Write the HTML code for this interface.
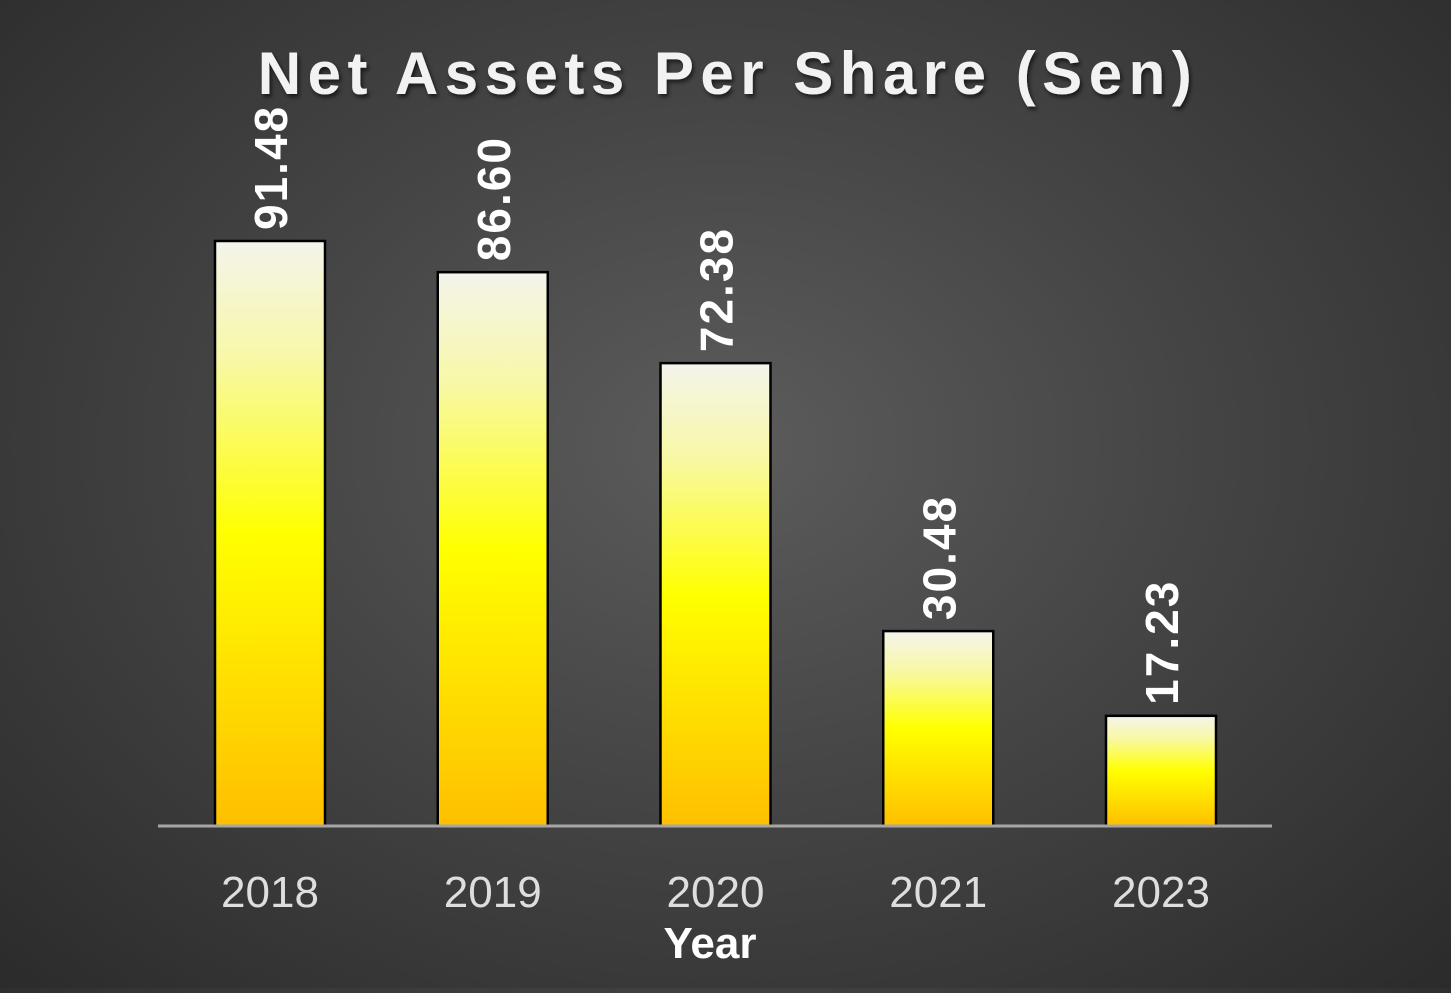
<!DOCTYPE html>
<html><head><meta charset="utf-8"><style>
html,body{margin:0;padding:0}
body{width:1451px;height:988px;overflow:hidden;background:radial-gradient(ellipse at 50% 45%,#5c5c5c 0%,#454545 45%,#2b2b2b 100%);font-family:"Liberation Sans",sans-serif}
</style></head><body>
<svg id="chart" width="1451" height="988" xmlns="http://www.w3.org/2000/svg">
<defs>
<linearGradient id="barGrad" x1="0" y1="0" x2="0" y2="1">
<stop offset="0" stop-color="#f4f4ec"/>
<stop offset="0.2" stop-color="#f8f8a8"/>
<stop offset="0.5" stop-color="#ffff00"/>
<stop offset="1" stop-color="#ffbf00"/>
</linearGradient>
<filter id="sh"><feDropShadow dx="2" dy="3" stdDeviation="2" flood-color="#000" flood-opacity="0.6"/></filter>
</defs>
<text x="728" y="94" text-anchor="middle" font-size="60" font-weight="bold" letter-spacing="6.5" fill="#f2f2f2" filter="url(#sh)">Net Assets Per Share (Sen)</text>
<g id="bars"></g>
<line x1="158" y1="826" x2="1272" y2="826" stroke="#a6a6a6" stroke-width="3"/>
<g id="xlabels"></g>
<text x="710" y="958" text-anchor="middle" font-size="44" font-weight="bold" fill="#ffffff">Year</text>
</svg>
<script>
const categories = ["2018","2019","2020","2021","2023"];
const values = [91.48, 86.60, 72.38, 30.48, 17.23];
const valueLabels = ["91.48","86.60","72.38","30.48","17.23"];
const NS="http://www.w3.org/2000/svg";
const baseY=826, pxPerUnit=6.395, firstCenter=270, step=222.75, barW=110;
const xAt=i=>firstCenter+i*step;
const yAt=v=>baseY-v*pxPerUnit;
const bars=document.getElementById('bars'), xl=document.getElementById('xlabels');
categories.forEach((c,i)=>{
  const cx=xAt(i), top=yAt(values[i]);
  const r=document.createElementNS(NS,'rect');
  
  
  r.setAttribute('x',cx-barW/2);r.setAttribute('y',top);
  r.setAttribute('width',barW);r.setAttribute('height',baseY-top);
  r.setAttribute('fill','url(#barGrad)');r.setAttribute('stroke','#000');r.setAttribute('stroke-width','2.5');
  bars.appendChild(r);
  const t=document.createElementNS(NS,'text');
  
  
  t.setAttribute('transform','translate('+(cx+17)+','+(top-11)+') rotate(-90)');
  t.setAttribute('font-size','46');t.setAttribute('font-weight','bold');t.setAttribute('letter-spacing','2');t.setAttribute('fill','#ffffff');
  t.textContent=valueLabels[i];
  bars.appendChild(t);
  const l=document.createElementNS(NS,'text');
  
  
  l.setAttribute('x',cx);l.setAttribute('y',907);l.setAttribute('text-anchor','middle');
  l.setAttribute('font-size','44');l.setAttribute('fill','#dedede');
  l.textContent=c;
  xl.appendChild(l);
});
</script>
</body></html>
